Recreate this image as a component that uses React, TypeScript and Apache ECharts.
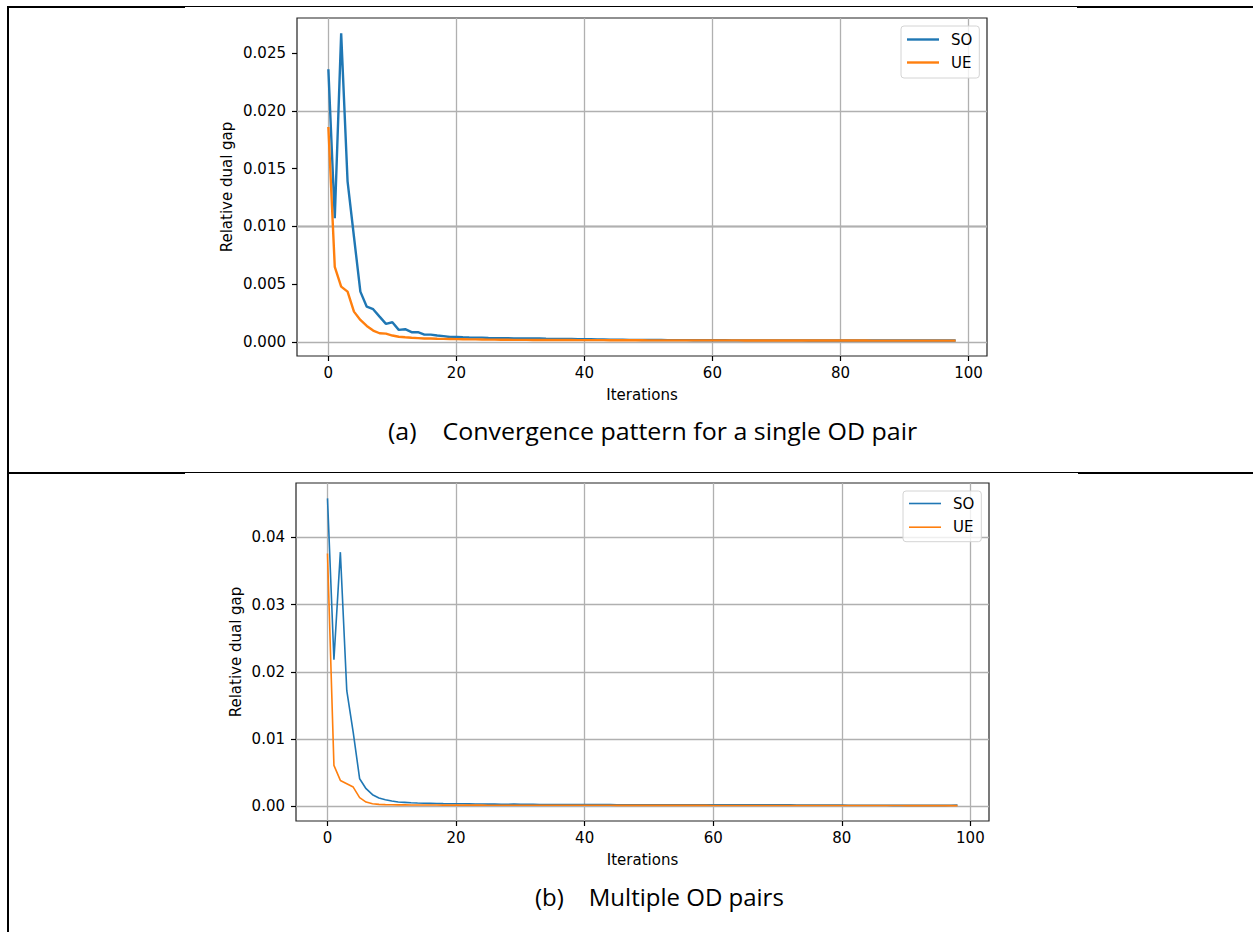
import React, { useEffect, useRef } from "react";
import * as echarts from "echarts";

const ITERATIONS = Array.from({ length: 99 }, (_, i) => i);
const X_TICKS = [0, 20, 40, 60, 80, 100];
const Y_TICKS_A = [0, 0.005, 0.01, 0.015, 0.02, 0.025];
const Y_TICKS_B = [0, 0.01, 0.02, 0.03, 0.04];
const SERIES_NAMES = ["SO", "UE"];
const X_LABEL = "Iterations";
const Y_LABEL = "Relative dual gap";
const CAPTION_A = "(a)    Convergence pattern for a single OD pair";
const CAPTION_B = "(b)    Multiple OD pairs";

const SO_A = [
  0.0236, 0.0107, 0.0267, 0.0139, 0.0091, 0.00435, 0.00305, 0.00283, 0.00219, 0.00156,
  0.0017, 0.00104, 0.0011, 0.00084, 0.00084, 0.00063, 0.00063, 0.00055, 0.0005, 0.00043,
  0.00043, 0.0004, 0.00038, 0.00037, 0.00037, 0.00034, 0.00033, 0.00032, 0.00032, 0.00031,
  0.0003, 0.0003, 0.00029, 0.00029, 0.00027, 0.00026, 0.00026, 0.00025, 0.00025, 0.00024,
  0.00024, 0.00023, 0.00022, 0.00021, 0.0002, 0.0002, 0.00019, 0.00018, 0.00018, 0.00017,
  0.00016, 0.00016, 0.00016, 0.00015, 0.00015, 0.00015, 0.00015, 0.00014, 0.00014, 0.00014,
  0.00014, 0.00014, 0.00014, 0.00013, 0.00013, 0.00013, 0.00013, 0.00013, 0.00013, 0.00013,
  0.00013, 0.00013, 0.00013, 0.00013, 0.00013, 0.00012, 0.00012, 0.00012, 0.00012, 0.00012,
  0.00012, 0.00012, 0.00012, 0.00012, 0.00012, 0.00012, 0.00012, 0.00012, 0.00012, 0.00012,
  0.00012, 0.00012, 0.00012, 0.00012, 0.00012, 0.00012, 0.00012, 0.00012, 0.00012,
];
const UE_A = [
  0.0186, 0.0065, 0.00478, 0.00435, 0.00262, 0.0019, 0.00138, 0.00098, 0.00075, 0.00072,
  0.00055, 0.00045, 0.0004, 0.00036, 0.00033, 0.0003, 0.00029, 0.00027, 0.00026, 0.00025,
  0.00024, 0.00023, 0.00022, 0.00022, 0.00021, 0.0002, 0.0002, 0.00019, 0.00019, 0.00018,
  0.00018, 0.00018, 0.00017, 0.00017, 0.00017, 0.00016, 0.00016, 0.00016, 0.00016, 0.00015,
  0.00015, 0.00015, 0.00015, 0.00015, 0.00014, 0.00014, 0.00014, 0.00014, 0.00014, 0.00014,
  0.00013, 0.00013, 0.00013, 0.00013, 0.00013, 0.00013, 0.00013, 0.00013, 0.00013, 0.00013,
  0.00013, 0.00013, 0.00013, 0.00013, 0.00013, 0.00012, 0.00012, 0.00012, 0.00012, 0.00012,
  0.00012, 0.00012, 0.00012, 0.00012, 0.00012, 0.00012, 0.00012, 0.00012, 0.00012, 0.00012,
  0.00012, 0.00012, 0.00012, 0.00012, 0.00012, 0.00011, 0.00011, 0.00011, 0.00011, 0.00011,
  0.00011, 0.00011, 0.00011, 0.00011, 0.00011, 0.00011, 0.00011, 0.00011, 0.00011,
];
const SO_B = [
  0.0458, 0.0218, 0.0378, 0.0172, 0.011, 0.0041, 0.00263, 0.00174, 0.00124, 0.00099,
  0.00079, 0.00064, 0.0006, 0.00054, 0.0005, 0.00047, 0.00045, 0.00043, 0.00041, 0.0004,
  0.00039, 0.00038, 0.00037, 0.00036, 0.00035, 0.00034, 0.00033, 0.00032, 0.00032, 0.00033,
  0.00031, 0.0003, 0.0003, 0.00029, 0.00029, 0.00028, 0.00028, 0.00028, 0.00027, 0.00027,
  0.00027, 0.00026, 0.00026, 0.00026, 0.00026, 0.00025, 0.00025, 0.00025, 0.00025, 0.00025,
  0.00025, 0.00025, 0.00024, 0.00024, 0.00024, 0.00024, 0.00024, 0.00024, 0.00024, 0.00024,
  0.00024, 0.00024, 0.00024, 0.00024, 0.00024, 0.00024, 0.00023, 0.00023, 0.00023, 0.00023,
  0.00023, 0.00023, 0.00022, 0.00021, 0.0002, 0.0002, 0.00019, 0.00019, 0.00018, 0.00018,
  0.00018, 0.00017, 0.00017, 0.00017, 0.00016, 0.00016, 0.00016, 0.00016, 0.00015, 0.00015,
  0.00015, 0.00015, 0.00015, 0.00015, 0.00015, 0.00015, 0.00015, 0.00016, 0.0002,
];
const UE_B = [
  0.0376, 0.0061, 0.00386, 0.00337, 0.00287, 0.00129, 0.00064, 0.0004, 0.0003, 0.00026,
  0.00024, 0.00023, 0.00022, 0.00021, 0.00021, 0.0002, 0.0002, 0.0002, 0.00019, 0.00019,
  0.00019, 0.00018, 0.00018, 0.00018, 0.00018, 0.00017, 0.00017, 0.00017, 0.00017, 0.00017,
  0.00016, 0.00016, 0.00016, 0.00016, 0.00016, 0.00016, 0.00016, 0.00016, 0.00016, 0.00016,
  0.00016, 0.00016, 0.00016, 0.00016, 0.00016, 0.00015, 0.00015, 0.00015, 0.00015, 0.00015,
  0.00015, 0.00015, 0.00015, 0.00015, 0.00015, 0.00015, 0.00015, 0.00015, 0.00015, 0.00015,
  0.00014, 0.00014, 0.00014, 0.00014, 0.00014, 0.00014, 0.00014, 0.00014, 0.00014, 0.00014,
  0.00014, 0.00014, 0.00014, 0.00014, 0.00014, 0.00013, 0.00013, 0.00013, 0.00013, 0.00013,
  0.00012, 0.00012, 0.00012, 0.00012, 0.00012, 0.00012, 0.00012, 0.00012, 0.00012, 0.00012,
  0.00011, 0.00011, 0.00011, 0.00011, 0.00011, 0.00011, 0.00011, 0.00011, 0.00011,
];

const COLORS = ["#1f77b4", "#ff7f0e"];
const FONT = "DejaVu Sans";
const CAPTION_FONT = "Open Sans";

function padded(vals: number[]): [number, number] {
  const lo = Math.min(...vals);
  const hi = Math.max(...vals);
  const m = (hi - lo) * 0.05;
  return [lo - m, hi + m];
}

export default function App() {
  const ref = useRef<HTMLDivElement>(null);

  useEffect(() => {
    if (!ref.current) return;
    const chart = echarts.init(ref.current, undefined, { renderer: "svg" });

    const [xMin, xMax] = padded(ITERATIONS);
    const [yMinA, yMaxA] = padded([...SO_A, ...UE_A]);
    const [yMinB, yMaxB] = padded([...SO_B, ...UE_B]);

    const grids = [
      { left: 297, top: 18, width: 690, height: 338 },
      { left: 296, top: 483, width: 693, height: 338 },
    ];

    const tickText = { fontFamily: FONT, fontSize: 15, color: "#000" };

    const makeX = (gi: number) => ({
      type: "value",
      gridIndex: gi,
      min: xMin,
      max: xMax,
      axisLine: { show: false, onZero: false },
      axisTick: {
        show: true,
        customValues: X_TICKS,
        length: 5,
        lineStyle: { color: "#000", width: 1.2 },
      },
      axisLabel: {
        customValues: X_TICKS,
        margin: 9,
        ...tickText,
        formatter: (v: number) => String(v),
      },
      splitLine: { show: false },
    });

    const makeY = (gi: number, min: number, max: number, ticks: number[], digits: number) => ({
      type: "value",
      gridIndex: gi,
      min,
      max,
      axisLine: { show: false, onZero: false },
      axisTick: {
        show: true,
        customValues: ticks,
        length: 5,
        lineStyle: { color: "#000", width: 1.2 },
      },
      axisLabel: {
        customValues: ticks,
        margin: 11,
        ...tickText,
        formatter: (v: number) => v.toFixed(digits),
      },
      splitLine: { show: false },
    });

    const gridLines = (yTicks: number[]) => ({
      silent: true,
      symbol: ["none", "none"],
      label: { show: false },
      z: 1,
      lineStyle: { color: "#b0b0b0", width: 1.3, type: "solid" },
      emphasis: { disabled: true },
      data: [
        ...X_TICKS.map((v) => ({ xAxis: v })),
        ...yTicks.map((v) => ({ yAxis: v })),
      ],
    });

    const makeSeries = (
      gi: number,
      values: number[],
      idx: number,
      width: number,
      withGrid: number[] | null
    ) => ({
      type: "line",
      name: SERIES_NAMES[idx],
      xAxisIndex: gi,
      yAxisIndex: gi,
      data: ITERATIONS.map((x, i) => [x, values[i]]),
      symbol: "none",
      showSymbol: false,
      lineStyle: { color: COLORS[idx], width },
      itemStyle: { color: COLORS[idx] },
      emphasis: { disabled: true },
      z: 3 + idx,
      ...(withGrid ? { markLine: gridLines(withGrid) } : {}),
    });

    const legendData = (w: number) =>
      SERIES_NAMES.map((name) => ({
        name,
        icon: `path://M0,0H32V${w}H0Z`,
      }));

    const legendBase = {
      orient: "vertical",
      itemWidth: 32,
      itemHeight: 14,
      itemGap: 8,
      selectedMode: false,
      backgroundColor: "rgba(255,255,255,0.8)",
      borderColor: "#d4d4d4",
      borderWidth: 1,
      borderRadius: 3,
      itemStyle: { borderWidth: 0 },
      textStyle: { fontFamily: FONT, fontSize: 15, color: "#000", padding: [0, 0, 0, 7] },
    };

    const txt = (text: string, x: number, y: number, opts: any = {}) => ({
      type: "text",
      x,
      y,
      rotation: opts.rotation || 0,
      scaleX: opts.scaleX || 1,
      silent: true,
      style: {
        text,
        fontFamily: opts.font || FONT,
        fontSize: opts.size || 15,
        fill: "#000",
        align: opts.align || "center",
        verticalAlign: "middle",
      },
    });

    const bar = (x: number, y: number, w: number, h: number) => ({
      type: "rect",
      silent: true,
      shape: { x, y, width: w, height: h },
      style: { fill: "#000" },
    });

    chart.setOption({
      animation: false,
      backgroundColor: "#fff",
      grid: grids.map((g) => ({
        ...g,
        show: true,
        borderColor: "#222",
        borderWidth: 1.2,
        backgroundColor: "transparent",
        containLabel: false,
      })),
      xAxis: [makeX(0), makeX(1)],
      yAxis: [
        makeY(0, yMinA, yMaxA, Y_TICKS_A, 3),
        makeY(1, yMinB, yMaxB, Y_TICKS_B, 2),
      ],
      legend: [
        { ...legendBase, left: 901, top: 26, padding: [6, 7, 8, 6], data: legendData(2.4) },
        {
          ...legendBase,
          left: 903,
          top: 491,
          itemGap: 8.7,
          padding: [5, 7, 7, 6],
          data: legendData(1.6),
        },
      ],
      series: [
        makeSeries(0, SO_A, 0, 2.4, Y_TICKS_A),
        makeSeries(0, UE_A, 1, 2.4, null),
        makeSeries(1, SO_B, 0, 1.6, Y_TICKS_B),
        makeSeries(1, UE_B, 1, 1.6, null),
      ],
      graphic: [
        bar(7, 6, 178, 2),
        bar(185, 6, 892, 1),
        bar(1077, 6, 176, 2),
        bar(7, 472, 178, 2),
        bar(185, 472, 893, 1),
        bar(1078, 472, 175, 2),
        bar(7, 6, 2, 926),
        txt(X_LABEL, 642, 395),
        txt(Y_LABEL, 227, 187, { rotation: Math.PI / 2 }),
        txt(X_LABEL, 642.5, 860),
        txt(Y_LABEL, 236, 652, { rotation: Math.PI / 2 }),
        txt(CAPTION_A, 388, 431, { font: CAPTION_FONT, size: 24, align: "left", scaleX: 1.04 }),
        txt(CAPTION_B, 535, 896, { font: CAPTION_FONT, size: 24, align: "left" }),
      ],
    });

    return () => chart.dispose();
  }, []);

  return (
    <div
      ref={ref}
      style={{ position: "absolute", left: 0, top: 0, width: 1253, height: 932 }}
    />
  );
}
